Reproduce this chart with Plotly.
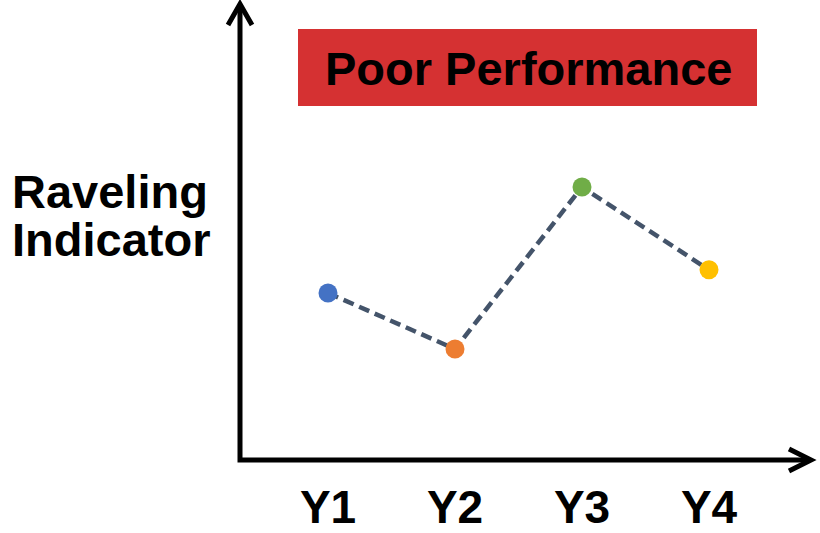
import plotly.graph_objects as go

# Yearly raveling indicator readings
years = ["Y1", "Y2", "Y3", "Y4"]
year_pos = [1, 2, 3, 4]
raveling = [3.67, 2.44, 6.0, 4.18]
point_colors = ["#4472C4", "#ED7D31", "#70AD47", "#FFC000"]

title_text = "Poor Performance"
y_label_lines = ["Raveling", "Indicator"]

W, H = 820, 533
FONT = "Liberation Sans, Arial, sans-serif"


def px(x):
    return x / W


def py(y):
    return 1 - y / H


fig = go.Figure()

fig.add_trace(go.Scatter(
    x=year_pos,
    y=raveling,
    mode="lines+markers",
    line=dict(color="#44546A", width=4.5, dash="11px,6px"),
    marker=dict(color=point_colors, size=19, line=dict(width=0)),
    showlegend=False,
    hoverinfo="skip",
))

shapes = []
# Axes drawn as one L-shaped stroke with chevron arrow tips
axis_path = f"M {px(240)},{py(4)} L {px(240)},{py(460)} L {px(810)},{py(460)}"
up_head = f"M {px(228)},{py(25)} L {px(240)},{py(4)} L {px(252)},{py(25)}"
right_head = f"M {px(789)},{py(449)} L {px(811)},{py(460)} L {px(789)},{py(471)}"
for p in (axis_path, up_head, right_head):
    shapes.append(dict(type="path", path=p, xref="paper", yref="paper",
                       line=dict(color="black", width=5)))

# Title banner
shapes.append(dict(type="rect", xref="paper", yref="paper",
                   x0=px(298), x1=px(757), y0=py(106), y1=py(29),
                   fillcolor="#D53132", line=dict(width=0), layer="below"))

label_font = dict(family=FONT, size=47, color="black", weight="bold")
annotations = [
    dict(text=title_text, x=px(528), y=py(68), xref="paper", yref="paper",
         showarrow=False, xanchor="center", yanchor="middle", font=label_font),
    dict(text=y_label_lines[0], x=px(110), y=py(191), xref="paper", yref="paper",
         showarrow=False, xanchor="center", yanchor="middle", font=label_font),
    dict(text=y_label_lines[1], x=px(111), y=py(239), xref="paper", yref="paper",
         showarrow=False, xanchor="center", yanchor="middle", font=label_font),
]

fig.update_layout(
    width=W, height=H,
    margin=dict(l=0, r=0, t=0, b=0),
    paper_bgcolor="white",
    plot_bgcolor="white",
    shapes=shapes,
    annotations=annotations,
    xaxis=dict(
        domain=[px(240), px(808)],
        range=[1 - 88 / 127, 1 + 480 / 127],
        tickvals=year_pos,
        ticktext=years,
        tickfont=dict(family=FONT, size=46, color="black", weight="bold"),
        ticklabelstandoff=16,
        showgrid=False, zeroline=False, showline=False,
        ticks="", automargin=False,
    ),
    yaxis=dict(
        domain=[py(460), py(5)],
        range=[0, 10],
        showticklabels=False,
        showgrid=False, zeroline=False, showline=False,
        ticks="", automargin=False,
    ),
)

fig.write_html("out.html")
